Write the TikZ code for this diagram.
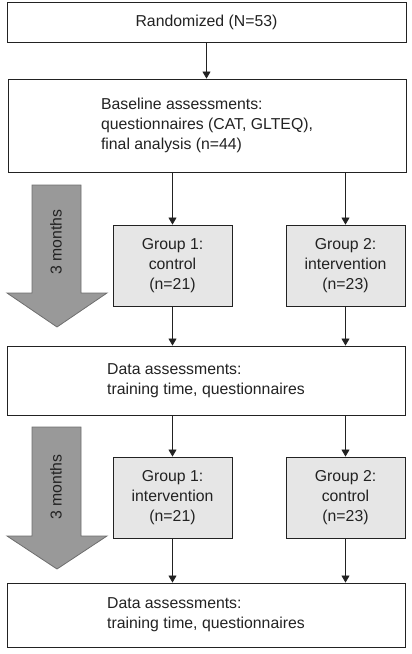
\documentclass[tikz,border=0pt]{standalone}
\usepackage{fontspec}
\setmainfont{Liberation Sans}
\usetikzlibrary{arrows.meta,positioning}
\usepackage{xcolor}
\definecolor{boxgray}{HTML}{E6E6E6}
\definecolor{arrowgray}{HTML}{999999}
\definecolor{edgegray}{HTML}{6E6E6E}
\definecolor{ink}{HTML}{222222}
\newcommand{\flowfont}{\fontsize{15.8}{19.8}\selectfont}
\tikzset{
    stagebox/.style={
        draw=ink,
        line width=0.9pt,
        fill=white,
        text=ink,
        align=left,
        inner sep=0pt,
        font=\flowfont
    },
    groupbox/.style={
        stagebox,
        fill=boxgray,
        align=center,
        minimum width=119pt,
        minimum height=81pt
    },
    flow/.style={
        -{Triangle[length=7pt,width=8pt]},
        line width=0.8pt,
        color=ink
    },
    period/.style={
        fill=arrowgray,
        draw=edgegray,
        line width=0.8pt
    },
    periodlabel/.style={
        rotate=90,
        text=ink,
        font=\flowfont
    }
}

\begin{document}
\begin{tikzpicture}[x=1pt,y=-1pt]

    \useasboundingbox (0,0) rectangle (412,654);

    % Time arrows
    \draw[period]
        (32,185) -- (81,185) -- (81,293) -- (107,293)
        -- (57,327) -- (7,293) -- (32,293) -- cycle;
    \node[periodlabel] (monthsA) at (56,242) {3 months};

    \draw[period]
        (32,427) -- (81,427) -- (81,536) -- (107,536)
        -- (57,569) -- (7,536) -- (32,536) -- cycle;
    \node[periodlabel] (monthsB) at (56,487) {3 months};

    % Stages
    \node[
        stagebox,
        align=center,
        minimum width=399pt,
        minimum height=40pt
    ] (random) at (206.5,22) {Randomized (N=53)};

    \node[
        stagebox,
        minimum width=398pt,
        minimum height=93pt
    ] (baseline) at (207,125.5)
        {Baseline assessments:\\questionnaires (CAT, GLTEQ),\\final analysis (n=44)};

    \node[groupbox] (groupA1) at (172.5,265.5) {Group 1:\\control\\(n=21)};
    \node[groupbox] (groupB1) at (345.5,265.5) {Group 2:\\intervention\\(n=23)};

    \node[
        stagebox,
        minimum width=398pt,
        minimum height=69pt
    ] (data1) at (206,380.5)
        {Data assessments:\\training time, questionnaires};

    \node[groupbox] (groupA2) at (172.5,497.5) {Group 1:\\intervention\\(n=21)};
    \node[groupbox] (groupB2) at (345.5,497.5) {Group 2:\\control\\(n=23)};

    \node[
        stagebox,
        minimum width=398pt,
        minimum height=64pt
    ] (data2) at (206,615)
        {Data assessments:\\training time, questionnaires};

    % Connectors
    \draw[flow] (random.south) -- (random.south |- baseline.north);

    \draw[flow] (baseline.south -| groupA1) -- (groupA1);
    \draw[flow] (baseline.south -| groupB1) -- (groupB1);
    \draw[flow] (groupA1) -- (groupA1 |- data1.north);
    \draw[flow] (groupB1) -- (groupB1 |- data1.north);

    \draw[flow] (data1.south -| groupA2) -- (groupA2);
    \draw[flow] (data1.south -| groupB2) -- (groupB2);
    \draw[flow] (groupA2) -- (groupA2 |- data2.north);
    \draw[flow] (groupB2) -- (groupB2 |- data2.north);

\end{tikzpicture}
\end{document}
